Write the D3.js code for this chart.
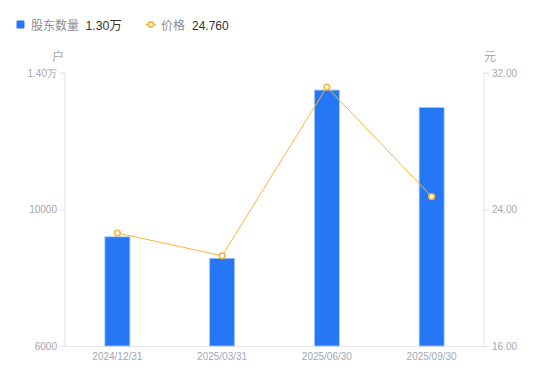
<!DOCTYPE html>
<html>
<head>
<meta charset="utf-8">
<script src="https://cdn.jsdelivr.net/npm/d3@7"></script>
<style>
html,body{margin:0;padding:0;background:#fff;}
svg{display:block;font-family:"Liberation Sans","Noto Sans CJK SC",sans-serif;}
</style>
</head>
<body>
<svg id="chart" width="550" height="381"></svg>
<script>
const categories = ["2024/12/31", "2025/03/31", "2025/06/30", "2025/09/30"];
const holders = [9200, 8570, 13500, 12990];
const prices = [22.62, 21.29, 31.18, 24.76];
const leftTicks = [6000, 10000, 14000];
const leftTickLabels = ["6000", "10000", "1.40万"];
const rightTicks = [16, 24, 32];
const rightTickLabels = ["16.00", "24.00", "32.00"];
const legendNames = ["股东数量", "价格"];
const legendValues = ["1.30万", "24.760"];
const unitLeft = "户";
const unitRight = "元";

const svg = d3.select("#chart");
const m = {left: 65, right: 484, top: 73, bottom: 346};
const barColor = "#2577F5";
const lineColor = "#FBB43C";
const axisColor = "#E3E3E8";
const tickTextColor = "#A3A6B4";

const x = d3.scaleBand().domain(categories).range([m.left, m.right]).paddingInner(0).paddingOuter(0);
const yL = d3.scaleLinear().domain([6000, 14000]).range([m.bottom, m.top]);
const yR = d3.scaleLinear().domain([16, 32]).range([m.bottom, m.top]);
const barW = 25;

// left axis
const axL = d3.axisLeft(yL).tickValues(leftTicks).tickSize(5).tickPadding(3)
  .tickFormat((d, i) => leftTickLabels[i]);
const gL = svg.append("g").attr("transform", `translate(${m.left},0)`).call(axL);
gL.select(".domain").attr("stroke", axisColor).attr("d", `M-5,${m.top}H0V${m.bottom}`);
gL.selectAll(".tick line").attr("stroke", axisColor);
gL.selectAll(".tick text").attr("fill", tickTextColor).attr("font-size", 10);

// right axis
const axR = d3.axisRight(yR).tickValues(rightTicks).tickSize(5).tickPadding(3)
  .tickFormat((d, i) => rightTickLabels[i]);
const gR = svg.append("g").attr("transform", `translate(${m.right},0)`).call(axR);
gR.select(".domain").attr("stroke", axisColor).attr("d", `M5,${m.top}H0V${m.bottom}`);
gR.selectAll(".tick line").attr("stroke", axisColor);
gR.selectAll(".tick text").attr("fill", tickTextColor).attr("font-size", 10);

// bottom axis
const axB = d3.axisBottom(x).tickSize(0).tickPadding(7);
const gB = svg.append("g").attr("transform", `translate(0,${m.bottom})`).call(axB);
gB.select(".domain").attr("stroke", axisColor);
gB.selectAll(".tick text").attr("fill", tickTextColor).attr("font-size", 10);

// unit labels
svg.append("text").attr("x", 58).attr("y", 61).attr("text-anchor", "middle")
  .attr("fill", tickTextColor).attr("font-size", 12).text(unitLeft);
svg.append("text").attr("x", 490).attr("y", 61).attr("text-anchor", "middle")
  .attr("fill", tickTextColor).attr("font-size", 12).text(unitRight);

// bars
svg.append("g").selectAll("rect").data(holders).join("rect")
  .attr("x", (d, i) => x(categories[i]) + x.bandwidth() / 2 - barW / 2)
  .attr("y", d => yL(d))
  .attr("width", barW)
  .attr("height", d => m.bottom - yL(d))
  .attr("fill", barColor)
  .attr("stroke", "#A9C8FA").attr("stroke-width", 0.8);

// line
const line = d3.line()
  .x((d, i) => x(categories[i]) + x.bandwidth() / 2)
  .y(d => yR(d));
svg.append("path").datum(prices).attr("d", line)
  .attr("fill", "none").attr("stroke", lineColor).attr("stroke-width", 1);
svg.append("g").selectAll("circle").data(prices).join("circle")
  .attr("cx", (d, i) => x(categories[i]) + x.bandwidth() / 2)
  .attr("cy", d => yR(d))
  .attr("r", 2.8)
  .attr("fill", "#fff").attr("stroke", lineColor).attr("stroke-width", 1.6);

// legend
const lg = svg.append("g");
lg.append("rect").attr("x", 16.5).attr("y", 20.5).attr("width", 8).attr("height", 8).attr("rx", 1)
  .attr("fill", barColor);
lg.append("text").attr("x", 31).attr("y", 29.5).attr("font-size", 12).attr("fill", "#8A8D99").text(legendNames[0]);
lg.append("text").attr("x", 85.5).attr("y", 29.5).attr("font-size", 12.3).attr("fill", "#333").text(legendValues[0]);
lg.append("line").attr("x1", 146).attr("x2", 156).attr("y1", 24.5).attr("y2", 24.5)
  .attr("stroke", lineColor).attr("stroke-width", 1.5);
lg.append("circle").attr("cx", 151).attr("cy", 24.5).attr("r", 2.6)
  .attr("fill", "#fff").attr("stroke", lineColor).attr("stroke-width", 1.6);
lg.append("text").attr("x", 161).attr("y", 29.5).attr("font-size", 12).attr("fill", "#8A8D99").text(legendNames[1]);
lg.append("text").attr("x", 192).attr("y", 29.5).attr("font-size", 12).attr("fill", "#333").text(legendValues[1]);
</script>
</body>
</html>
